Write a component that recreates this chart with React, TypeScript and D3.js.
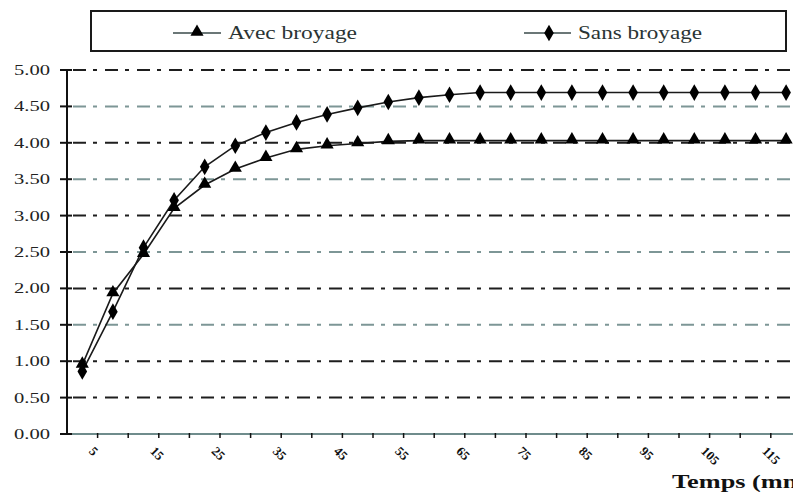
import React from "react";
import * as d3 from "d3";

// Time (mn) for each measurement
const times = [5, 10, 15, 20, 25, 30, 35, 40, 45, 50, 55, 60, 65, 70, 75, 80, 85, 90, 95, 100, 105, 110, 115, 120];
// Series values
const avecBroyage = [0.95, 1.93, 2.47, 3.1, 3.42, 3.64, 3.79, 3.91, 3.96, 3.99, 4.02, 4.03, 4.03, 4.03, 4.03, 4.03, 4.03, 4.03, 4.03, 4.03, 4.03, 4.03, 4.03, 4.03];
const sansBroyage = [0.86, 1.68, 2.56, 3.21, 3.67, 3.96, 4.14, 4.28, 4.39, 4.48, 4.56, 4.62, 4.66, 4.69, 4.69, 4.69, 4.69, 4.69, 4.69, 4.69, 4.69, 4.69, 4.69, 4.69];
// Y axis ticks
const yTicks = [0, 0.5, 1, 1.5, 2, 2.5, 3, 3.5, 4, 4.5, 5];
// Only every other time value is labelled
const xLabels = [5, 15, 25, 35, 45, 55, 65, 75, 85, 95, 105, 115];
const seriesNames = ["Avec broyage", "Sans broyage"];
const axisTitle = "Temps (mn)";

const W = 793;
const H = 498;
const left = 67;
const bandW = 30.6;
const top = 70;
const bottom = 434;

const x = d3
  .scaleBand<number>()
  .domain(times)
  .range([left, left + bandW * times.length])
  .paddingInner(0)
  .paddingOuter(0);
const y = d3.scaleLinear().domain([0, 5]).range([bottom, top]);
const cx = (t: number) => (x(t) as number) + x.bandwidth() / 2;

const lineGen = d3
  .line<number>()
  .x((_, i) => cx(times[i]))
  .y((v) => y(v));

const triPath = d3.symbol(d3.symbolTriangle, 75)() as string;
const diaPath = d3.symbol(d3.symbolDiamond, 80)() as string;

const gridDark = "#1e1e1e";
const gridGrey = "#7d9696";
const serif = "'Liberation Serif', 'DejaVu Serif', 'Times New Roman', serif";

export default function App() {
  const rightEdge = left + bandW * times.length;
  return (
    <svg
      width={W}
      height={H}
      style={{ position: "absolute", left: 0, top: 0, background: "#fff", fontFamily: serif }}
    >
      <rect x={0} y={0} width={W} height={H} fill="#fff" />

      {/* legend */}
      <rect x={91} y={11} width={695} height={40} fill="#fff" stroke="#1a1a1a" strokeWidth={2} />
      <line x1={173} x2={221} y1={33} y2={33} stroke="#3a4a4a" strokeWidth={1.5} />
      <path d={triPath} transform="translate(197,32)" fill="#000" />
      <text x={228} y={39} fontSize={19} fill="#2a3434" textLength={129} lengthAdjust="spacingAndGlyphs">
        {seriesNames[0]}
      </text>
      <line x1={524} x2={571} y1={33} y2={33} stroke="#3a4a4a" strokeWidth={1.5} />
      <path d={diaPath} transform="translate(549,33)" fill="#000" />
      <text x={578} y={39} fontSize={19} fill="#2a3434" textLength={124} lengthAdjust="spacingAndGlyphs">
        {seriesNames[1]}
      </text>

      {/* horizontal grid lines */}
      {yTicks
        .filter((v) => v > 0)
        .map((v) => (
          <line
            key={"g" + v}
            x1={left}
            x2={rightEdge}
            y1={y(v)}
            y2={y(v)}
            stroke={v % 1 === 0.5 && v > 1 ? gridGrey : gridDark}
            strokeWidth={2}
            strokeDasharray="13 7 4 8"
            strokeDashoffset={-6}
          />
        ))}

      {/* x axis */}
      <line x1={left} x2={rightEdge} y1={bottom} y2={bottom} stroke="#6f8c8c" strokeWidth={2} />
      {times.map((t) => (
        <line
          key={"xt" + t}
          x1={(x(t) as number) + bandW}
          x2={(x(t) as number) + bandW}
          y1={bottom - 1}
          y2={bottom + 4}
          stroke="#111"
          strokeWidth={1.5}
        />
      ))}
      {xLabels.map((t) => (
        <text
          key={"xl" + t}
          transform={`translate(${cx(t) + 6},${bottom + 18}) rotate(45)`}
          fontSize={13}
          fill="#111"
          fontWeight="bold"
        >
          {t}
        </text>
      ))}

      {/* y axis */}
      <line x1={left} x2={left} y1={top} y2={bottom} stroke="#111" strokeWidth={2} />
      {yTicks.map((v) => (
        <g key={"yt" + v}>
          <line x1={left - 7} x2={left + 5} y1={y(v)} y2={y(v)} stroke="#111" strokeWidth={2} />
          <text
            x={50}
            y={y(v) + 5}
            textAnchor="end"
            fontSize={15}
            fill="#222"
            textLength={36}
            lengthAdjust="spacingAndGlyphs"
          >
            {v.toFixed(2)}
          </text>
        </g>
      ))}

      {/* series */}
      <path d={lineGen(avecBroyage) as string} fill="none" stroke="#1a1a1a" strokeWidth={1.6} />
      <path d={lineGen(sansBroyage) as string} fill="none" stroke="#1a1a1a" strokeWidth={1.6} />
      {avecBroyage.map((v, i) => (
        <path key={"a" + i} d={triPath} transform={`translate(${cx(times[i])},${y(v) - 1})`} fill="#000" />
      ))}
      {sansBroyage.map((v, i) => (
        <path key={"s" + i} d={diaPath} transform={`translate(${cx(times[i])},${y(v)})`} fill="#000" />
      ))}

      {/* axis title */}
      <text x={672} y={488} fontSize={18} fontWeight="bold" fill="#111" textLength={134} lengthAdjust="spacingAndGlyphs">
        {axisTitle}
      </text>
    </svg>
  );
}
